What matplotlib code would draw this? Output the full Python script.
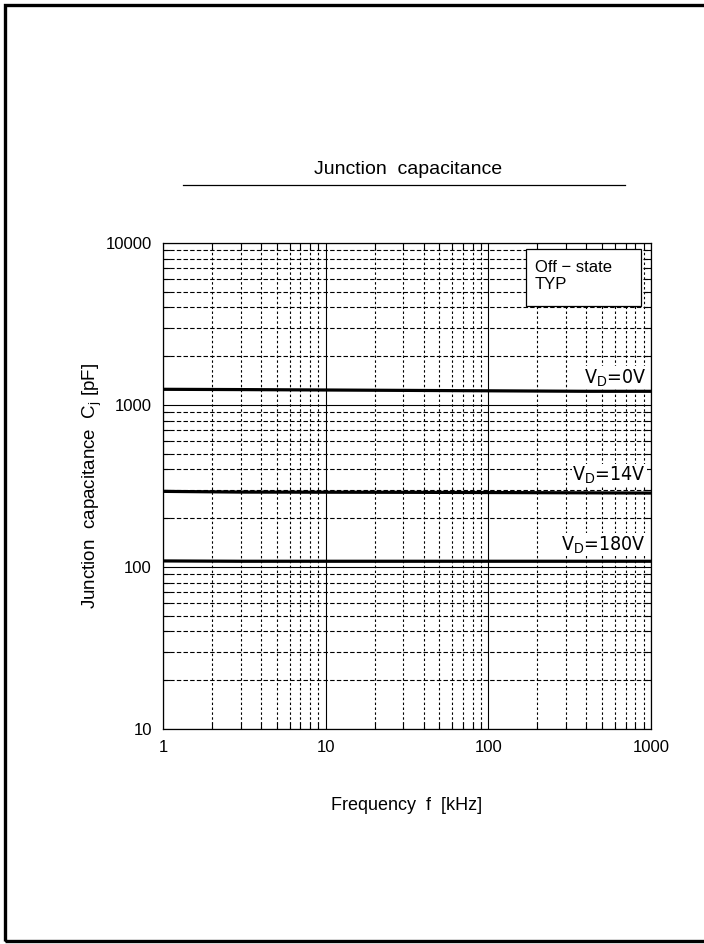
import matplotlib
matplotlib.use('Agg')
import matplotlib.pyplot as plt
from matplotlib.lines import Line2D
from matplotlib.patches import Rectangle
from matplotlib.ticker import LogLocator, NullFormatter, FixedLocator

plt.rcParams['font.family'] = ['Liberation Sans', 'DejaVu Sans']
plt.rcParams['mathtext.fontset'] = 'custom'
plt.rcParams['mathtext.rm'] = 'Liberation Sans'
plt.rcParams['mathtext.it'] = 'Liberation Sans:italic'

# data
freq_khz = [1, 3, 35, 400, 1000]
cj_0v = [1250, 1245, 1230, 1215, 1215]
cj_14v = [293, 290, 289, 287, 286]
cj_180v = [109, 108.5, 108.5, 108.5, 108.5]
series_labels = [r'V$_\mathrm{D}$=0V', r'V$_\mathrm{D}$=14V', r'V$_\mathrm{D}$=180V']
label_y = [1370, 342, 127]

xticks = [1, 10, 100, 1000]
yticks = [10, 100, 1000, 10000]

fig = plt.figure(figsize=(7.04, 9.44), dpi=100)
W, H = 704, 944

# page frame
fig.add_artist(Rectangle((5 / W, 3 / H), 1.2, 1 - 8 / H, transform=fig.transFigure,
                         fill=False, lw=2.4, ec='black'))

ax = fig.add_axes([163 / W, 1 - 729 / H, 488 / W, 486 / H])
ax.set_xscale('log')
ax.set_yscale('log')
ax.set_xlim(1, 1000)
ax.set_ylim(10, 10000)

ax.xaxis.set_major_locator(FixedLocator(xticks))
ax.yaxis.set_major_locator(FixedLocator(yticks))
ax.set_xticklabels([str(v) for v in xticks])
ax.set_yticklabels([str(v) for v in yticks])
ax.xaxis.set_minor_locator(LogLocator(base=10, subs=range(2, 10)))
ax.yaxis.set_minor_locator(LogLocator(base=10, subs=range(2, 10)))
ax.xaxis.set_minor_formatter(NullFormatter())
ax.yaxis.set_minor_formatter(NullFormatter())

ax.grid(which='major', color='black', lw=0.8, ls='-')
ax.xaxis.grid(which='minor', color='black', lw=0.8, ls=(0, (2.2, 2.2)))
ax.yaxis.grid(which='minor', color='black', lw=0.8, ls=(0, (4, 2)))
ax.tick_params(which='both', direction='in', top=True, right=True,
               labelsize=12, colors='black', width=0.8)
ax.tick_params(which='major', length=0, pad=8)
ax.tick_params(which='minor', length=5)
for s in ax.spines.values():
    s.set_linewidth(0.9)

for vals in (cj_0v, cj_14v, cj_180v):
    ax.plot(freq_khz, vals, color='black', lw=2.3, solid_capstyle='butt', zorder=3)

for lab, yv in zip(series_labels, label_y):
    ax.text(930, yv, lab, ha='right', va='baseline', fontsize=14,
            family=['DejaVu Sans'], stretch='condensed',
            bbox=dict(facecolor='white', edgecolor='none', pad=0.5), zorder=4)

# condition box
ax.add_patch(Rectangle((0.744, 0.870), 0.235, 0.118, transform=ax.transAxes,
                       facecolor='white', edgecolor='black', lw=0.9, zorder=5))
ax.text(0.762, 0.966, 'Off \u2212 state\nTYP', transform=ax.transAxes,
        ha='left', va='top', fontsize=12, linespacing=1.2, zorder=6)

ax.set_xlabel('Frequency  f  [kHz]', fontsize=13, labelpad=30)
ax.set_ylabel('Junction  capacitance  C$_\\mathrm{j}$ [pF]', fontsize=13.5, labelpad=1)

fig.text(408 / W, 1 - 170 / H, 'Junction  capacitance', ha='center', va='center', fontsize=14)
fig.add_artist(Line2D([183 / W, 625 / W], [1 - 185 / H] * 2, transform=fig.transFigure,
                      color='black', lw=0.9))

fig.savefig('out.png', dpi=100)
